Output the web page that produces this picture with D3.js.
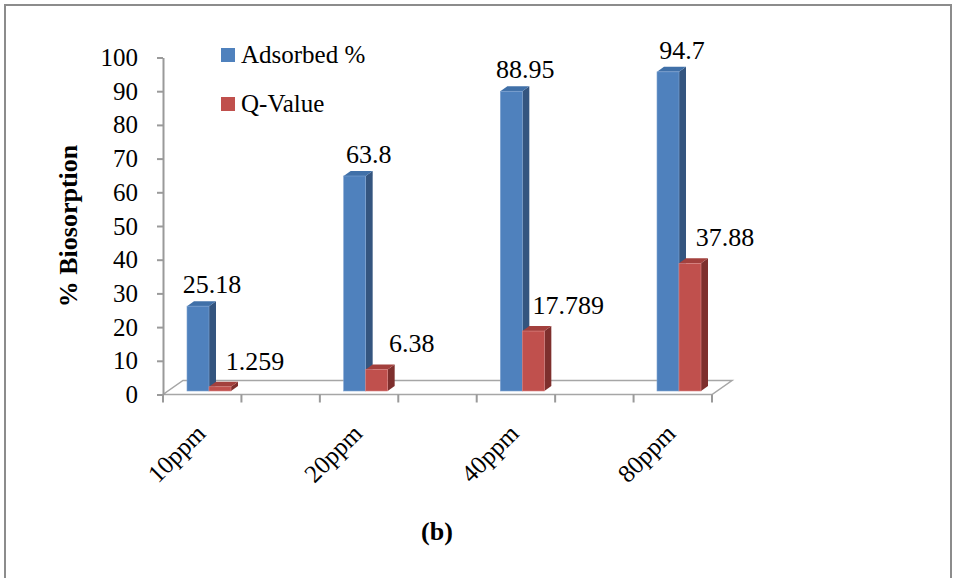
<!DOCTYPE html>
<html>
<head>
<meta charset="utf-8">
<script src="https://cdn.jsdelivr.net/npm/d3@7"></script>
<style>
  html, body { margin: 0; padding: 0; background: #fff; }
  svg { display: block; }
  svg text { font-family: "Liberation Serif", Tinos, "Times New Roman", Times, "DejaVu Serif", serif !important; }
</style>
</head>
<body>
<svg id="chart" width="956" height="578"></svg>
<script>
// Biosorption at four initial concentrations
const categories = ["10ppm", "20ppm", "40ppm", "80ppm"];
const adsorbed = [25.18, 63.8, 88.95, 94.7];
const qValue = [1.259, 6.38, 17.789, 37.88];
const adsorbedLabels = ["25.18", "63.8", "88.95", "94.7"];
const qValueLabels = ["1.259", "6.38", "17.789", "37.88"];
const seriesNames = ["Adsorbed %", "Q-Value"];
const yTickValues = [0, 10, 20, 30, 40, 50, 60, 70, 80, 90, 100];
const floorDivisions = [0, 1, 2, 3, 4, 5, 6, 7];

const SERIF = "Liberation Serif, Tinos, Times New Roman, serif";
const svg = d3.select("#chart");

// frame around the figure
svg.append("path")
  .attr("d", "M5,578 L5,5 L951,5 L951,578")
  .attr("fill", "none").attr("stroke", "#8c8c8c").attr("stroke-width", 2);

// scales
const y = d3.scaleLinear().domain([0, 100]).range([394.5, 57.5]);
const x = d3.scalePoint().domain(categories).range([209, 679]);
const floorX = d3.scaleLinear().domain([0, 7]).range([163, 712]);

// floor of the 3-D plot
const depth = { dx: 20, dy: -14 };
const fx0 = floorX(0), fx1 = floorX(7), fy = y(0);
svg.append("path")
  .attr("d", `M${fx0},${fy} L${fx1},${fy} L${fx1 + depth.dx},${fy + depth.dy} L${fx0 + depth.dx},${fy + depth.dy} Z`)
  .attr("fill", "#fff").attr("stroke", "#a6a6a6").attr("stroke-width", 1.5);

// value axis
const yAxis = svg.append("g").attr("transform", `translate(${fx0},0)`)
  .call(d3.axisLeft(y).tickValues(yTickValues).tickSize(6).tickSizeOuter(0).tickPadding(19));
yAxis.attr("font-family", SERIF);
yAxis.select(".domain").attr("stroke", "#9a9a9a").attr("stroke-width", 2);
yAxis.selectAll(".tick line").attr("stroke", "#9a9a9a").attr("stroke-width", 2);
yAxis.selectAll(".tick text")
  .attr("font-family", SERIF).attr("font-size", 25).attr("fill", "#000");

// category division marks below the floor
svg.append("g").selectAll("line").data(floorDivisions).join("line")
  .attr("x1", d => floorX(d)).attr("x2", d => floorX(d))
  .attr("y1", fy).attr("y2", fy + 8)
  .attr("stroke", "#9a9a9a").attr("stroke-width", 2);

// 3-D columns
const barW = 22;
const barDepth = { dx: 7, dy: -5 };
const barLift = -3.5;
const palettes = [
  { front: "#4f81bd", side: "#34557f", top: "#4070a8", edge: "#7fa3d1" },
  { front: "#c0504d", side: "#7e2f2d", top: "#a3403d", edge: "#d98482" }
];
const seriesValues = [adsorbed, qValue];
const seriesLabels = [adsorbedLabels, qValueLabels];
const labelShift = [{ dx: 14, dy: -13 }, { dx: 35, dy: -17 }];

const bars = svg.append("g");
const labels = svg.append("g");
categories.forEach((cat, i) => {
  seriesValues.forEach((vals, s) => {
    const x0 = x(cat) - barW + s * barW;
    const yb = y(0) + barLift;
    const yt = y(vals[i]) + barLift;
    const p = palettes[s];
    const g = bars.append("g");
    g.append("path")
      .attr("d", `M${x0 + barW},${yt} L${x0 + barW + barDepth.dx},${yt + barDepth.dy} L${x0 + barW + barDepth.dx},${yb + barDepth.dy} L${x0 + barW},${yb} Z`)
      .attr("fill", p.side);
    g.append("path")
      .attr("d", `M${x0},${yt} L${x0 + barDepth.dx},${yt + barDepth.dy} L${x0 + barW + barDepth.dx},${yt + barDepth.dy} L${x0 + barW},${yt} Z`)
      .attr("fill", p.top);
    g.append("rect")
      .attr("x", x0).attr("y", yt).attr("width", barW).attr("height", yb - yt)
      .attr("fill", p.front).attr("stroke", p.edge).attr("stroke-width", 0.6);

    labels.append("text")
      .attr("x", x0 + barW / 2 + labelShift[s].dx)
      .attr("y", yt + labelShift[s].dy)
      .attr("text-anchor", "middle")
      .attr("font-family", SERIF)
      .attr("font-size", 26).attr("fill", "#000")
      .text(seriesLabels[s][i]);
  });
});

// rotated category labels
svg.append("g").selectAll("text").data(categories).join("text")
  .attr("transform", d => `translate(${x(d) - 2},435) rotate(-45)`)
  .attr("text-anchor", "end")
  .attr("font-family", SERIF)
  .attr("font-size", 25).attr("fill", "#000")
  .text(d => d);

// axis title
svg.append("text")
  .attr("transform", "translate(68,226) rotate(-90)")
  .attr("text-anchor", "middle").attr("dominant-baseline", "central")
  .attr("font-family", SERIF)
  .attr("font-size", 26).attr("font-weight", "bold").attr("fill", "#000")
  .text("% Biosorption");

// panel caption
svg.append("text")
  .attr("x", 437).attr("y", 540)
  .attr("text-anchor", "middle")
  .attr("font-family", SERIF)
  .attr("font-size", 26).attr("font-weight", "bold").attr("fill", "#000")
  .text("(b)");

// legend
const legend = svg.append("g");
seriesNames.forEach((name, s) => {
  const ly = 63 + s * 49;
  legend.append("rect")
    .attr("x", 221).attr("y", ly - 15).attr("width", 14).attr("height", 14)
    .attr("fill", palettes[s].front);
  legend.append("text")
    .attr("x", 241).attr("y", ly)
    .attr("font-family", SERIF)
    .attr("font-size", 25).attr("fill", "#000")
    .text(name);
});
</script>
</body>
</html>
